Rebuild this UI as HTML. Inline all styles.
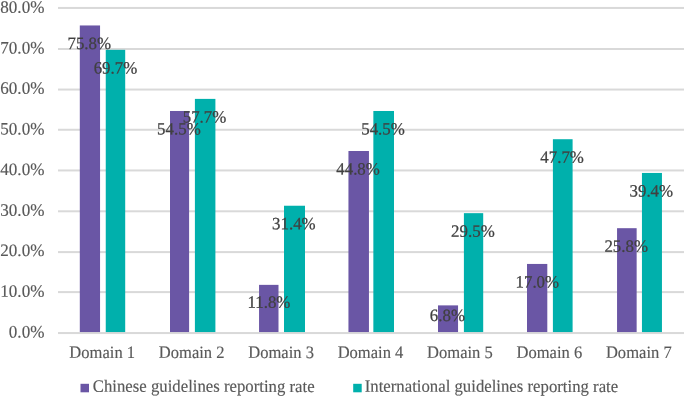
<!DOCTYPE html>
<html><head><meta charset="utf-8"><title>Reporting rate chart</title>
<style>
html,body{margin:0;padding:0;background:#fff;}
body{width:685px;height:397px;overflow:hidden;}
svg{display:block;}
text{font-family:"Liberation Serif",serif;font-size:17.3px;text-rendering:geometricPrecision;}
.ax{fill:#595959;stroke:#595959;stroke-width:0.15px;}
.dl{fill:#404040;stroke:#404040;stroke-width:0.25px;}
</style></head><body>
<svg width="685" height="397" viewBox="0 0 685 397">
<rect width="685" height="397" fill="#ffffff"/>
<rect x="58.0" y="291.10" width="626.0" height="2" fill="#d9d9d9"/>
<rect x="58.0" y="251.10" width="626.0" height="2" fill="#d9d9d9"/>
<rect x="58.0" y="210.30" width="626.0" height="2" fill="#d9d9d9"/>
<rect x="58.0" y="169.45" width="626.0" height="2" fill="#d9d9d9"/>
<rect x="58.0" y="128.75" width="626.0" height="2" fill="#d9d9d9"/>
<rect x="58.0" y="88.55" width="626.0" height="2" fill="#d9d9d9"/>
<rect x="58.0" y="48.00" width="626.0" height="2" fill="#d9d9d9"/>
<rect x="58.0" y="6.95" width="626.0" height="2" fill="#d9d9d9"/>
<rect x="79.80" y="25.46" width="20.25" height="307.54" fill="#6a56a5"/>
<rect x="105.75" y="49.84" width="19.45" height="283.16" fill="#00b0ac"/>
<rect x="170.00" y="110.99" width="19.10" height="222.01" fill="#6a56a5"/>
<rect x="194.90" y="98.89" width="20.50" height="234.11" fill="#00b0ac"/>
<rect x="259.05" y="284.86" width="19.45" height="48.14" fill="#6a56a5"/>
<rect x="284.00" y="205.74" width="21.00" height="127.26" fill="#00b0ac"/>
<rect x="348.45" y="151.00" width="20.50" height="182.00" fill="#6a56a5"/>
<rect x="373.35" y="110.99" width="20.65" height="222.01" fill="#00b0ac"/>
<rect x="438.00" y="305.38" width="20.05" height="27.62" fill="#6a56a5"/>
<rect x="463.90" y="213.16" width="19.30" height="119.84" fill="#00b0ac"/>
<rect x="527.00" y="263.94" width="20.30" height="69.06" fill="#6a56a5"/>
<rect x="552.90" y="139.22" width="19.70" height="193.78" fill="#00b0ac"/>
<rect x="617.05" y="228.19" width="19.60" height="104.81" fill="#6a56a5"/>
<rect x="641.95" y="172.94" width="20.00" height="160.06" fill="#00b0ac"/>
<rect x="58.0" y="332.05" width="626.0" height="2" fill="#d9d9d9"/>
<text class="ax" transform="translate(44.40 337.62) scale(0.988 1.01) matrix(1 0.001 0 1 0 0)" text-anchor="end">0.0%</text>
<text class="ax" transform="translate(44.40 296.73) scale(0.988 1.01) matrix(1 0.001 0 1 0 0)" text-anchor="end">10.0%</text>
<text class="ax" transform="translate(44.40 256.00) scale(0.988 1.01) matrix(1 0.001 0 1 0 0)" text-anchor="end">20.0%</text>
<text class="ax" transform="translate(44.40 215.78) scale(0.988 1.01) matrix(1 0.001 0 1 0 0)" text-anchor="end">30.0%</text>
<text class="ax" transform="translate(44.40 174.97) scale(0.988 1.01) matrix(1 0.001 0 1 0 0)" text-anchor="end">40.0%</text>
<text class="ax" transform="translate(44.40 134.47) scale(0.988 1.01) matrix(1 0.001 0 1 0 0)" text-anchor="end">50.0%</text>
<text class="ax" transform="translate(44.40 93.72) scale(0.988 1.01) matrix(1 0.001 0 1 0 0)" text-anchor="end">60.0%</text>
<text class="ax" transform="translate(44.40 53.58) scale(0.988 1.01) matrix(1 0.001 0 1 0 0)" text-anchor="end">70.0%</text>
<text class="ax" transform="translate(44.40 12.81) scale(0.988 1.01) matrix(1 0.001 0 1 0 0)" text-anchor="end">80.0%</text>
<text class="ax" transform="translate(102.21 357.90) scale(0.958 1.005) matrix(1 0.001 0 1 0 0)" text-anchor="middle">Domain 1</text>
<text class="ax" transform="translate(191.64 357.90) scale(0.958 1.005) matrix(1 0.001 0 1 0 0)" text-anchor="middle">Domain 2</text>
<text class="ax" transform="translate(281.07 357.90) scale(0.958 1.005) matrix(1 0.001 0 1 0 0)" text-anchor="middle">Domain 3</text>
<text class="ax" transform="translate(370.50 357.90) scale(0.958 1.005) matrix(1 0.001 0 1 0 0)" text-anchor="middle">Domain 4</text>
<text class="ax" transform="translate(459.93 357.90) scale(0.958 1.005) matrix(1 0.001 0 1 0 0)" text-anchor="middle">Domain 5</text>
<text class="ax" transform="translate(549.36 357.90) scale(0.958 1.005) matrix(1 0.001 0 1 0 0)" text-anchor="middle">Domain 6</text>
<text class="ax" transform="translate(638.79 357.90) scale(0.958 1.005) matrix(1 0.001 0 1 0 0)" text-anchor="middle">Domain 7</text>
<text class="dl" transform="translate(89.27 49.06) scale(0.976 1.0) matrix(1 0.001 0 1 0 0)" text-anchor="middle">75.8%</text>
<text class="dl" transform="translate(115.42 73.44) scale(0.976 1.0) matrix(1 0.001 0 1 0 0)" text-anchor="middle">69.7%</text>
<text class="dl" transform="translate(178.90 134.59) scale(0.976 1.0) matrix(1 0.001 0 1 0 0)" text-anchor="middle">54.5%</text>
<text class="dl" transform="translate(204.50 122.49) scale(0.976 1.0) matrix(1 0.001 0 1 0 0)" text-anchor="middle">57.7%</text>
<text class="dl" transform="translate(268.93 307.86) scale(0.976 1.0) matrix(1 0.001 0 1 0 0)" text-anchor="middle">11.8%</text>
<text class="dl" transform="translate(293.85 229.34) scale(0.976 1.0) matrix(1 0.001 0 1 0 0)" text-anchor="middle">31.4%</text>
<text class="dl" transform="translate(358.05 174.60) scale(0.976 1.0) matrix(1 0.001 0 1 0 0)" text-anchor="middle">44.8%</text>
<text class="dl" transform="translate(383.03 134.59) scale(0.976 1.0) matrix(1 0.001 0 1 0 0)" text-anchor="middle">54.5%</text>
<text class="dl" transform="translate(447.38 321.10) scale(0.976 1.0) matrix(1 0.001 0 1 0 0)" text-anchor="middle">6.8%</text>
<text class="dl" transform="translate(472.90 236.76) scale(0.976 1.0) matrix(1 0.001 0 1 0 0)" text-anchor="middle">29.5%</text>
<text class="dl" transform="translate(537.30 287.54) scale(0.976 1.0) matrix(1 0.001 0 1 0 0)" text-anchor="middle">17.0%</text>
<text class="dl" transform="translate(562.10 162.82) scale(0.976 1.0) matrix(1 0.001 0 1 0 0)" text-anchor="middle">47.7%</text>
<text class="dl" transform="translate(626.20 251.79) scale(0.976 1.0) matrix(1 0.001 0 1 0 0)" text-anchor="middle">25.8%</text>
<text class="dl" transform="translate(651.30 196.54) scale(0.976 1.0) matrix(1 0.001 0 1 0 0)" text-anchor="middle">39.4%</text>
<rect x="80.5" y="383.8" width="8.5" height="8.5" fill="#6a56a5"/>
<text class="ax" transform="translate(92.80 391.70) scale(0.969 1.0) matrix(1 0.001 0 1 0 0)" text-anchor="start">Chinese guidelines reporting rate</text>
<rect x="353.2" y="383.8" width="8.5" height="8.5" fill="#00b0ac"/>
<text class="ax" transform="translate(364.75 391.70) scale(0.969 1.0) matrix(1 0.001 0 1 0 0)" text-anchor="start">International guidelines reporting rate</text>
</svg></body></html>
